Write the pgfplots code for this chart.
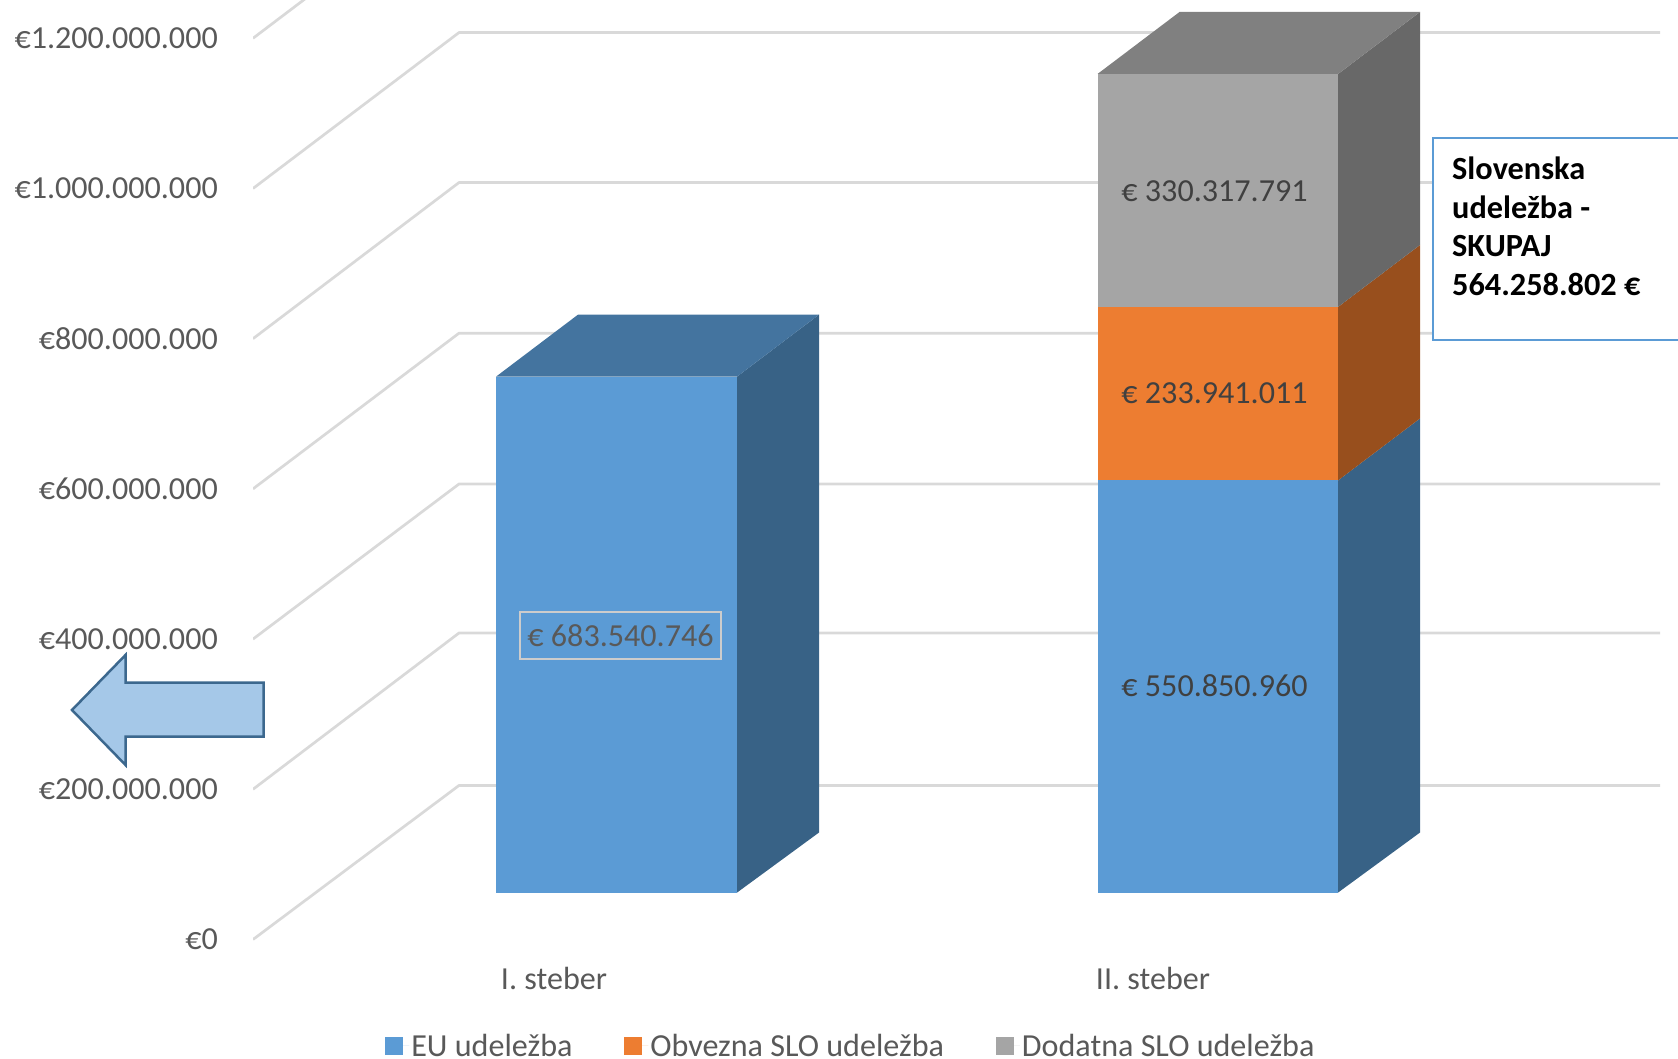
\documentclass[border=0pt]{standalone}
\usepackage{fontspec}
\setmainfont{Carlito}
\usepackage{pgfplots}
\pgfplotsset{compat=1.18}
\definecolor{gridc}{HTML}{D9D9D9}
\definecolor{tickc}{HTML}{595959}
\definecolor{labc}{HTML}{404040}
\definecolor{blueF}{HTML}{5B9BD5}
\definecolor{blueS}{HTML}{386286}
\definecolor{blueT}{HTML}{44749F}
\definecolor{oranF}{HTML}{ED7D31}
\definecolor{oranS}{HTML}{984F1D}
\definecolor{grayF}{HTML}{A5A5A5}
\definecolor{grayS}{HTML}{686868}
\definecolor{grayT}{HTML}{808080}
\newcommand{\bigf}{\fontsize{32.1}{38}\selectfont}
\begin{document}
\begin{tikzpicture}[x=1pt,y=1pt]
\useasboundingbox (0,0) rectangle (1678,1059);
% wall, gridlines, tick labels
\begin{axis}[
  at={(253pt,104pt)}, anchor=south west,
  scale only axis, width=1425pt, height=955pt,
  xmin=253, xmax=1678, ymin=-20640000, ymax=1251000000,
  axis line style={draw=none}, tick style={draw=none}, major tick length=0pt,
  ytick={0,200000000,400000000,600000000,800000000,1000000000,1200000000},
  yticklabels={€0,€200.000.000,€400.000.000,€600.000.000,€800.000.000,€1.000.000.000,€1.200.000.000},
  xtick={554,1153}, xticklabels={I. steber,II. steber},
  scaled y ticks=false,
  yticklabel style={font=\bigf, text=tickc, anchor=east, inner sep=0pt, xshift=-35pt},
  xticklabel style={font=\bigf, text=tickc, anchor=center, inner sep=0pt, yshift=-23.5pt},
]
\addplot[gridc, line width=2.7pt, line join=round] coordinates {(253,0)(459,205060000)(1660,205060000)};
\addplot[gridc, line width=2.7pt, line join=round] coordinates {(253,200000000)(459,408100000)(1660,408100000)};
\addplot[gridc, line width=2.7pt, line join=round] coordinates {(253,400000000)(459,606500000)(1660,606500000)};
\addplot[gridc, line width=2.7pt, line join=round] coordinates {(253,600000000)(459,807300000)(1660,807300000)};
\addplot[gridc, line width=2.7pt, line join=round] coordinates {(253,800000000)(459,1007900000)(1660,1007900000)};
\addplot[gridc, line width=2.7pt, line join=round] coordinates {(253,1000000000)(459,1207600000)(1660,1207600000)};
\addplot[gridc, line width=2.7pt, line join=round] coordinates {(253,1200000000)(459,1407600000)(1660,1407600000)};
\end{axis}
% bars
\begin{axis}[
  at={(0pt,0pt)}, anchor=south west,
  scale only axis, width=1678pt, height=1059pt,
  xmin=0, xmax=1678, ymin=-221570000, ymax=1188550000,
  hide axis,
  legend style={at={(rel axis cs:0.5071,0.0123)}, anchor=center, draw=none, fill=none,
    font=\bigf, text=tickc, legend columns=3, inner sep=0pt, outer sep=0pt,
    /tikz/every even column/.append style={column sep=49.9pt}},
  legend cell align=left,
  legend image code/.code={\fill[#1] (0pt,-9pt) rectangle (18pt,9pt);\path (0pt,0pt) -- (24pt,0pt);},
]
% I. steber
\addplot[fill=blueF, draw=none] coordinates {(496,0)(737,0)(737,687000000)(496,687000000)};
\addlegendentry{EU udeležba}
\addlegendimage{fill=oranF, draw=none}
\addlegendentry{Obvezna SLO udeležba}
\addlegendimage{fill=grayF, draw=none}
\addlegendentry{Dodatna SLO udeležba}
\addplot[forget plot, fill=blueS, draw=none] coordinates {(737,0)(819,80000000)(819,769560000)(737,687000000)};
\addplot[forget plot, fill=blueT, draw=none] coordinates {(496,687000000)(737,687000000)(819,769560000)(578,769560000)};
% II. steber
\addplot[forget plot, fill=blueF, draw=none] coordinates {(1097.5,0)(1338,0)(1338,548800000)(1097.5,548800000)};
\addplot[forget plot, fill=blueS, draw=none] coordinates {(1338,0)(1420,80000000)(1420,631360000)(1338,548800000)};
\addplot[forget plot, fill=oranF, draw=none] coordinates {(1097.5,548800000)(1338,548800000)(1338,779800000)(1097.5,779800000)};
\addplot[forget plot, fill=oranS, draw=none] coordinates {(1338,548800000)(1420,631360000)(1420,862360000)(1338,779800000)};
\addplot[forget plot, fill=grayF, draw=none] coordinates {(1097.5,779800000)(1338,779800000)(1338,1090000000)(1097.5,1090000000)};
\addplot[forget plot, fill=grayS, draw=none] coordinates {(1338,779800000)(1420,862360000)(1420,1172560000)(1338,1090000000)};
\addplot[forget plot, fill=grayT, draw=none] coordinates {(1097.5,1090000000)(1338,1090000000)(1420,1172560000)(1179.5,1172560000)};
% data labels
\node[font=\bigf, text=tickc, draw=gridc!85!gray, line width=2pt, minimum width=201pt, minimum height=47pt, inner sep=0pt]
  at (axis cs:620.5,342300000) {€ 683.540.746};
\node[font=\bigf, text=labc] at (axis cs:1214.5,275100000) {€ 550.850.960};
\node[font=\bigf, text=labc] at (axis cs:1214.5,665200000) {€ 233.941.011};
\node[font=\bigf, text=labc] at (axis cs:1214.5,933300000) {€ 330.317.791};
\end{axis}
% arrow
\draw[fill=blueF!55!white, draw=blueS!90!blueF, line width=2.5pt, line join=miter]
  (72,349) -- (125.5,404) -- (125.5,376.3) -- (263.5,376.3) -- (263.5,322.3) -- (125.5,322.3) -- (125.5,294) -- cycle;
% call-out
\draw[fill=white, draw=blueF, line width=2.5pt] (1433,921) rectangle (1700,719);
\begin{scope}[every node/.style={font=\fontsize{32.3}{38}\selectfont\bfseries, text=black, anchor=west, inner sep=0pt}]
\node at (1452,891) {Slovenska};
\node at (1452,852) {udeležba -};
\node at (1452,813) {SKUPAJ};
\node at (1452,775) {564.258.802 €};
\end{scope}
\end{tikzpicture}
\end{document}
